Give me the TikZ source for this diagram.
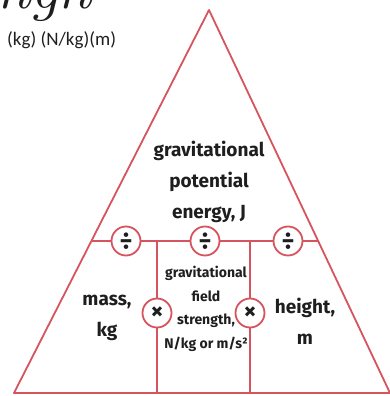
\documentclass[tikz,border=0pt]{standalone}
\usepackage{fontspec}
\setmainfont{Fira Sans}
\newfontfamily\unitfont{Carlito}
\newfontfamily\titlefont{Latin Modern Roman}
\definecolor{tri}{RGB}{214,84,94}
\definecolor{ink}{RGB}{30,30,30}
\begin{document}
\begin{tikzpicture}[x=1pt,y=-1pt,
  edge/.style={draw=tri,line width=1.8pt,line join=round},
  opc/.style={circle,draw=tri,line width=1.8pt,fill=white,minimum size=29pt,inner sep=0pt,text=ink,font=\bfseries\fontsize{25}{25}\selectfont},
  big/.style={align=center,text=ink,font=\bfseries\fontsize{19}{31}\selectfont},
  small/.style={align=center,text=ink,font=\bfseries\fontsize{14}{23.5}\selectfont}]
\useasboundingbox (0,0) rectangle (390,396);
% title (cut off at top)
\node[anchor=base west,inner sep=0pt,text=ink,font=\titlefont\itshape\fontsize{64}{64}\selectfont] (title) at (-21,9) {mgh};
\node[anchor=west,inner sep=0pt,text=ink,font=\unitfont\fontsize{19}{19}\selectfont] (units) at (7,40) {(kg) (N/kg)(m)};
% triangle corners
\coordinate (apex) at (209,10);
\coordinate (bl) at (14,393);
\coordinate (br) at (390,393);
\coordinate (hl) at (91.4,241);
\coordinate (hr) at (318,241);
\coordinate (j1) at (157,241);
\coordinate (j2) at (250,241);
\coordinate (b1) at (157,393);
\coordinate (b2) at (250,393);
\draw[edge] (apex) -- (bl) -- (br) -- cycle;
% operator circles
\node[opc] (d1) at (126,241) {÷};
\node[opc] (d2) at (205,241) {÷};
\node[opc] (d3) at (288,241) {÷};
\node[opc] (m1) at (157,313) {×};
\node[opc] (m2) at (250,313) {×};
% dividing lines
\draw[edge] (hl) -- (d1) -- (d2) -- (d3) -- (hr);
\draw[edge] (j1) -- (m1) -- (b1);
\draw[edge] (j2) -- (m2) -- (b2);
% labels
\node[big] (gpe) at (209,182) {gravitational\\potential\\energy, J};
\node[big] (mass) at (107,318) {mass,\\kg};
\node[big] (height) at (305,321) {height,\\m};
\node[small] (gfs) at (206,309) {gravitational\\field\\strength,\\N/kg or m/s²};
\end{tikzpicture}
\end{document}
